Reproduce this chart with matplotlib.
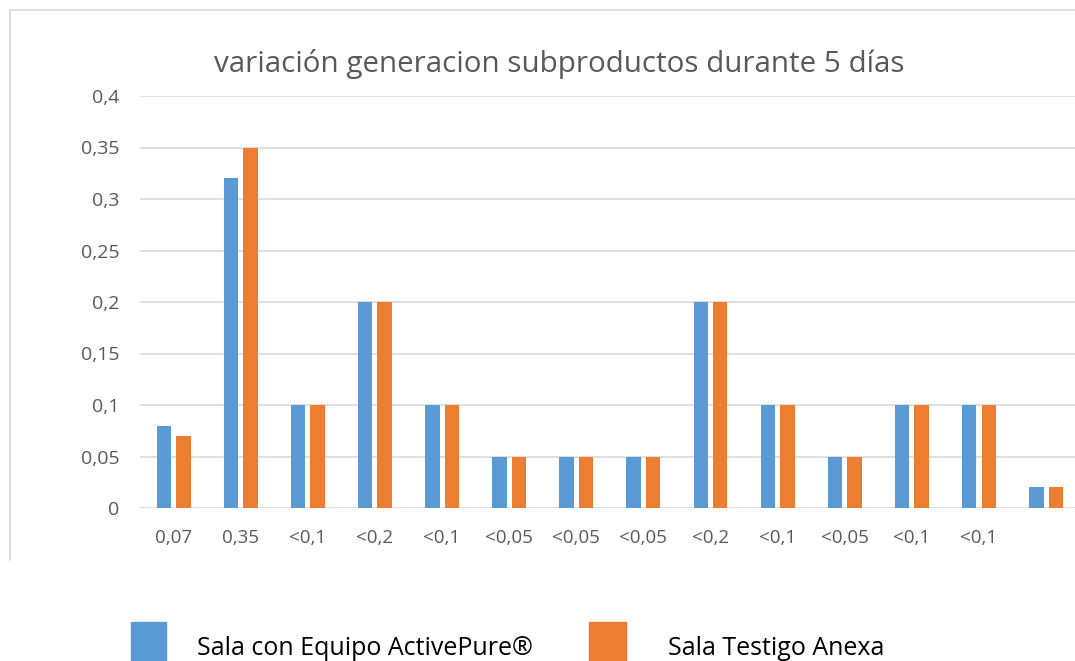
import numpy as np
import matplotlib.pyplot as plt
from matplotlib.patches import Rectangle
from matplotlib.lines import Line2D

categories = ['0,07', '0,35', '<0,1', '<0,2', '<0,1', '<0,05', '<0,05', '<0,05',
              '<0,2', '<0,1', '<0,05', '<0,1', '<0,1', '']
activepure = [0.08, 0.32, 0.10, 0.20, 0.10, 0.05, 0.05, 0.05, 0.20, 0.10, 0.05, 0.10, 0.10, 0.02]
testigo = [0.07, 0.35, 0.10, 0.20, 0.10, 0.05, 0.05, 0.05, 0.20, 0.10, 0.05, 0.10, 0.10, 0.02]
yticks = [0, 0.05, 0.1, 0.15, 0.2, 0.25, 0.3, 0.35, 0.4]
ylabels = ['0', '0,05', '0,1', '0,15', '0,2', '0,25', '0,3', '0,35', '0,4']
series_names = ['Sala con Equipo ActivePure®', 'Sala Testigo Anexa']

blue = '#5B9BD5'
orange = '#ED7D31'
grey = '#595959'

plt.rcParams['font.family'] = ['Open Sans', 'DejaVu Sans']

fig = plt.figure(figsize=(10.75, 6.61), dpi=100)
W, H = 1075, 661

# chart border (only top and left are in the picture)
fig.add_artist(Line2D([10 / W, 10 / W], [1 - 10 / H, 1 - 560 / H], color='#d9d9d9', lw=1.2))
fig.add_artist(Line2D([10 / W, 1], [1 - 10 / H, 1 - 10 / H], color='#d9d9d9', lw=1.2))

ax = fig.add_axes([140 / W, 153 / H, 935 / W, 412 / H])
x = np.arange(len(categories))
bw = 0.215
ax.bar(x - 0.145, activepure, bw, color=blue, zorder=3)
ax.bar(x + 0.145, testigo, bw, color=orange, zorder=3)

ax.set_xlim(-0.5, 13.43)
ax.set_ylim(0, 0.4)
ax.set_yticks(yticks)
ax.set_yticklabels(ylabels)
ax.set_xticks(x)
ax.set_xticklabels(categories)
ax.tick_params(axis='both', length=0, colors=grey)
ax.tick_params(axis='y', pad=15, labelsize=14)
ax.tick_params(axis='x', pad=15, labelsize=13.5)
ax.grid(axis='y', color='#d9d9d9', lw=1.2, zorder=0)
for s in ax.spines.values():
    s.set_visible(False)

fig.text(559 / W, 1 - 64 / H, 'variación generacion subproductos durante 5 días',
         ha='center', va='center', fontsize=21.3, color=grey)

# legend at the bottom
fig.add_artist(Rectangle((131 / W, 0), 35 / W, 39 / H, color=blue, transform=fig.transFigure))
fig.add_artist(Rectangle((589 / W, 0), 37 / W, 39 / H, color=orange, transform=fig.transFigure))
fig.text(197 / W, 1 - 655 / H, series_names[0], ha='left', va='baseline', fontsize=18, color='#000000')
fig.text(668 / W, 1 - 655 / H, series_names[1], ha='left', va='baseline', fontsize=18, color='#000000')

fig.savefig('out.png', dpi=100)
